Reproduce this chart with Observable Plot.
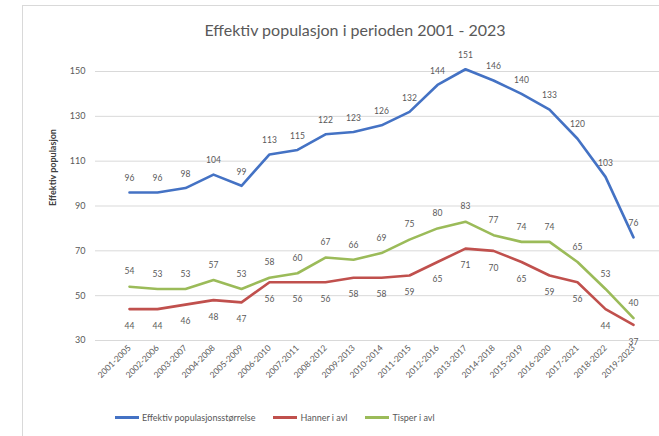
<!DOCTYPE html>
<html>
<head>
<meta charset="utf-8">
<script src="https://cdn.jsdelivr.net/npm/d3@7"></script>
<script src="https://cdn.jsdelivr.net/npm/@observablehq/plot@0.6"></script>
<style>
  html, body { margin: 0; padding: 0; background: #fff; }
  body { width: 659px; height: 436px; position: relative; overflow: hidden; font-family: Lato, "Open Sans", sans-serif; }
  #frame { position: absolute; left: 22px; top: 5px; width: 650px; height: 450px; border: 1px solid #d9d9d9; box-sizing: border-box; }
  #title { position: absolute; left: 0; top: 20px; width: 710px; text-align: center; font-size: 16px; color: #595959; }
  #chart { position: absolute; left: 0; top: 50px; }
  #legend { position: absolute; left: 115px; top: 412px; display: flex; align-items: center; font-size: 9px; color: #595959; }
  .item { display: flex; align-items: center; margin-right: 18px; }
  .sw { width: 24px; height: 2.5px; margin-right: 3px; }
</style>
</head>
<body>
<div id="frame"></div>
<div id="title">Effektiv populasjon  i perioden 2001 - 2023</div>
<div id="chart"></div>
<div id="legend"></div>
<script>
const categories = ["2001-2005","2002-2006","2003-2007","2004-2008","2005-2009","2006-2010","2007-2011","2008-2012","2009-2013","2010-2014","2011-2015","2012-2016","2013-2017","2014-2018","2015-2019","2016-2020","2017-2021","2018-2022","2019-2023"];
const effektiv = [96,96,98,104,99,113,115,122,123,126,132,144,151,146,140,133,120,103,76];
const hanner   = [44,44,46,48,47,56,56,56,58,58,59,65,71,70,65,59,56,44,37];
const tisper   = [54,53,53,57,53,58,60,67,66,69,75,80,83,77,74,74,65,53,40];
const yTicks = [30,50,70,90,110,130,150];
const seriesNames = ["Effektiv populasjonsstørrelse","Hanner i avl","Tisper i avl"];
const seriesColors = ["#4472C4","#C0504D","#9BBB59"];

const rows = (vals) => categories.map((c, i) => ({c, v: vals[i]}));
const dEff = rows(effektiv), dHan = rows(hanner), dTis = rows(tisper);

const lblStyle = {fontSize: 8.5, fill: "#595959", fontFamily: "Lato, 'Open Sans', sans-serif"};

const chart = Plot.plot({
  width: 659,
  height: 360,
  marginLeft: 95,
  marginRight: 0,
  marginTop: 21,
  marginBottom: 70,
  style: {fontFamily: "Lato, 'Open Sans', sans-serif", color: "#595959", background: "transparent"},
  x: {type: "point", domain: categories, range: [112, 649], label: null, tickRotate: -45, tickSize: 0, tickPadding: 6},
  y: {domain: [30, 150], ticks: yTicks, label: null, tickSize: 0, tickPadding: 10},
  marks: [
    Plot.ruleY(yTicks, {stroke: "#d9d9d9", strokeWidth: 1}),
    Plot.line(dEff, {x: "c", y: "v", stroke: seriesColors[0], strokeWidth: 2.6, strokeLinejoin: "round"}),
    Plot.line(dHan, {x: "c", y: "v", stroke: seriesColors[1], strokeWidth: 2.6, strokeLinejoin: "round"}),
    Plot.line(dTis, {x: "c", y: "v", stroke: seriesColors[2], strokeWidth: 2.6, strokeLinejoin: "round"}),
    Plot.text(dEff, {x: "c", y: "v", text: d => String(d.v), dy: -14, ...lblStyle}),
    Plot.text(dTis, {x: "c", y: "v", text: d => String(d.v), dy: -15, ...lblStyle}),
    Plot.text(dHan, {x: "c", y: "v", text: d => String(d.v), dy: 17, ...lblStyle}),
    Plot.text(["Effektiv populasjon"], {frameAnchor: "left", dx: -42, rotate: -90, fontWeight: "bold", fontSize: 9, fill: "#404040"}),
    Plot.axisY({ticks: yTicks, tickSize: 0, tickPadding: 10, fontSize: 9, label: null}),
    Plot.axisX({tickRotate: -45, tickSize: 0, tickPadding: 6, fontSize: 8.5, label: null})
  ]
});
document.getElementById("chart").appendChild(chart);

const legend = document.getElementById("legend");
seriesNames.forEach((n, i) => {
  const it = document.createElement("div");
  it.className = "item";
  const sw = document.createElement("div");
  sw.className = "sw";
  sw.style.background = seriesColors[i];
  const t = document.createElement("span");
  t.textContent = n;
  it.appendChild(sw); it.appendChild(t);
  legend.appendChild(it);
});
</script>
</body>
</html>
